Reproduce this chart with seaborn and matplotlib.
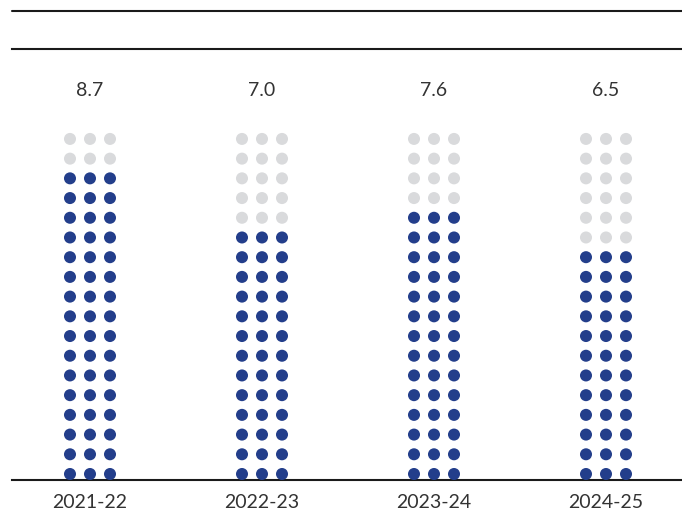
import matplotlib
matplotlib.use("Agg")
import matplotlib.pyplot as plt
import seaborn as sns
import pandas as pd
from matplotlib.lines import Line2D

years = ["2021-22", "2022-23", "2023-24", "2024-25"]
values = [8.7, 7.0, 7.6, 6.5]
filled_rows = [16, 13, 14, 12]   # blue rows
total_rows = 18
dots_per_row = 3

BLUE = "#233E8B"
GREY = "#D9DADC"
TEXT = "#333333"

rows = []
for i, (yr, nf) in enumerate(zip(years, filled_rows)):
    for r in range(total_rows):
        for j in range(dots_per_row):
            rows.append({"x": i + (j - 1) * 0.1163, "y": r,
                         "state": "filled" if r < nf else "empty"})
df = pd.DataFrame(rows)

sns.set_theme(style="white")
plt.rcParams["font.family"] = ["Lato", "DejaVu Sans"]

fig = plt.figure(figsize=(6.82, 5.16), dpi=100)
ax = fig.add_axes([12 / 682, 36 / 516, 670 / 682, (480 - 49) / 516])

sns.scatterplot(data=df, x="x", y="y", hue="state",
                palette={"filled": BLUE, "empty": GREY},
                s=75, linewidth=0, legend=False, ax=ax, zorder=3)

ax.set_xlim((12 - 90) / 172, (682 - 90) / 172)
ax.set_ylim(-6 / 19.71, (474 - 49) / 19.71)

for i, v in enumerate(values):
    ax.text(i, (474 - 91) / 19.71, f"{v:.1f}", ha="center", va="center",
            fontsize=14, color=TEXT)

ax.set_xticks(range(len(years)))
ax.set_xticklabels(years, fontsize=14, color=TEXT)
ax.set_yticks([])
ax.tick_params(axis="x", length=0, pad=10)
ax.set_xlabel("")
ax.set_ylabel("")

for s in ["left", "right"]:
    ax.spines[s].set_visible(False)
for s in ["top", "bottom"]:
    ax.spines[s].set_color("#1a1a1a")
    ax.spines[s].set_linewidth(1.5)
    ax.spines[s].set_zorder(2)

fig.add_artist(Line2D([12 / 682, 1.0], [1 - 11 / 516, 1 - 11 / 516],
                      transform=fig.transFigure, color="#1a1a1a", linewidth=1.5))

fig.savefig("out.png", dpi=100)
